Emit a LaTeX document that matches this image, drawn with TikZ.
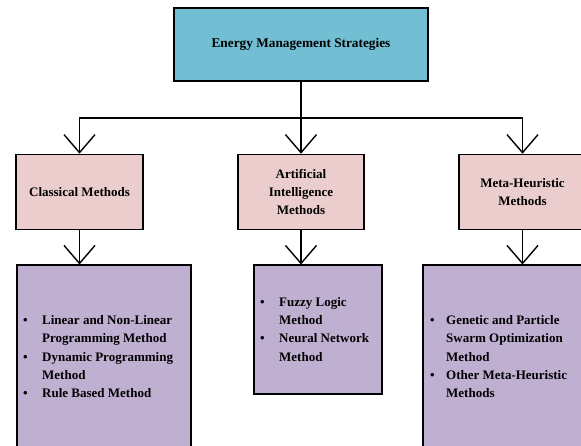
\documentclass[tikz,border=0pt]{standalone}
\usepackage{fontspec}
\setmainfont{Liberation Serif}
\usetikzlibrary{arrows.meta}
\definecolor{topc}{HTML}{72BED2}
\definecolor{pinkc}{HTML}{EBCDCD}
\definecolor{purpc}{HTML}{BFB0D2}
\tikzset{
  box/.style={draw=black, line width=1.6pt, inner sep=0pt},
  conn/.style={line width=1.4pt},
  arr/.style={conn, -{Straight Barb[length=18pt,width=31pt,line width=1.4pt]}},
  lab/.style={font=\fontsize{13}{18.3}\selectfont\bfseries, align=center},
  lst/.style={font=\fontsize{13}{18.3}\selectfont\bfseries, inner sep=0pt, anchor=base west}
}
\begin{document}
\begin{tikzpicture}[x=1pt,y=-1pt]
\clip (0,0) rectangle (581,446);
\fill[white] (0,0) rectangle (581,446);
% top box
\node[box, fill=topc, minimum width=254pt, minimum height=73pt,
      font=\fontsize{13.3}{16}\selectfont\bfseries] (t) at (301,44.5) {Energy Management Strategies};
% category boxes
\node[box, fill=pinkc, lab, minimum width=127pt, minimum height=75pt] (c1) at (79.5,192) {Classical Methods};
\node[box, fill=pinkc, lab, minimum width=126pt, minimum height=75pt] (c2) at (301,192) {Artificial\\Intelligence\\Methods};
\node[box, fill=pinkc, lab, minimum width=127pt, minimum height=75pt] (c3) at (522.5,192) {Meta-Heuristic\\Methods};
% method boxes
\node[box, fill=purpc, minimum width=174pt, minimum height=188pt, anchor=north west] (p1) at (16,264.5) {};
\node[box, fill=purpc, minimum width=128pt, minimum height=128.5pt, anchor=north west] (p2) at (253,264.5) {};
\node[box, fill=purpc, minimum width=180pt, minimum height=188pt, anchor=north west] (p3) at (422,264.5) {};
% lists
\node[lst] (l1) at (23,324.5) {\begin{tabular}[t]{@{}p{19pt}@{}l@{}}
\textbullet & Linear and Non-Linear\\
 & Programming Method\\
\textbullet & Dynamic Programming\\
 & Method\\
\textbullet & Rule Based Method
\end{tabular}};
\node[lst] (l2) at (260,306.2) {\begin{tabular}[t]{@{}p{19pt}@{}l@{}}
\textbullet & Fuzzy Logic\\
 & Method\\
\textbullet & Neural Network\\
 & Method
\end{tabular}};
\node[lst] (l3) at (430,324.5) {\begin{tabular}[t]{@{}p{16pt}@{}l@{}}
\textbullet & Genetic and Particle\\
 & Swarm Optimization\\
 & Method\\
\textbullet & Other Meta-Heuristic\\
 & Methods
\end{tabular}};
% connectors
\coordinate (j) at (t.south |- 0,118);
\draw[conn] (t.south) -- (j);
\draw[arr] (j) -| (c1.north);
\draw[arr] (j) -- (c2.north);
\draw[arr] (j) -| (c3.north);
\draw[arr] (c1.south) -- (c1.south |- p1.north);
\draw[arr] (c2.south) -- (c2.south |- p2.north);
\draw[arr] (c3.south) -- (c3.south |- p3.north);
\end{tikzpicture}
\end{document}
